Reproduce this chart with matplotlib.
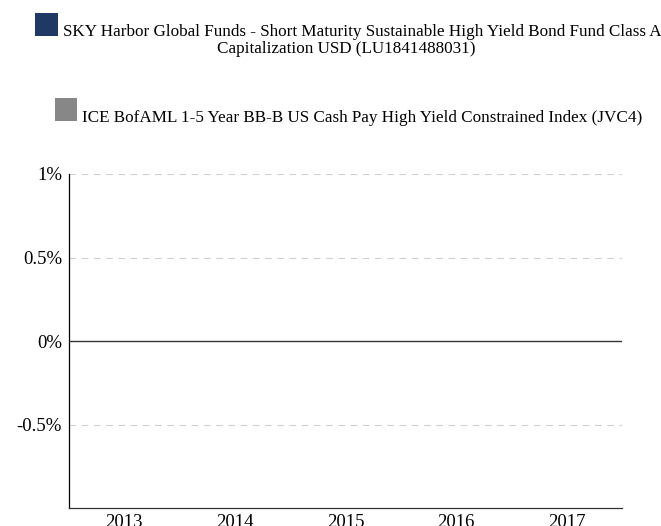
import matplotlib
matplotlib.use("Agg")
import matplotlib.pyplot as plt
from matplotlib.patches import Rectangle
from matplotlib.ticker import FuncFormatter
import numpy as np

# Data
years = ["2013", "2014", "2015", "2016", "2017"]
fund_returns = [np.nan, np.nan, np.nan, np.nan, np.nan]
index_returns = [np.nan, np.nan, np.nan, np.nan, np.nan]
yticks = [-0.5, 0, 0.5, 1]
fund_name_l1 = "SKY Harbor Global Funds - Short Maturity Sustainable High Yield Bond Fund Class A"
fund_name_l2 = "Capitalization USD (LU1841488031)"
index_name = "ICE BofAML 1-5 Year BB-B US Cash Pay High Yield Constrained Index (JVC4)"

plt.rcParams['font.family'] = ['Liberation Serif', 'DejaVu Serif']

W, H = 661, 526
fig = plt.figure(figsize=(W / 100, H / 100), dpi=100)

def fx(px):
    return px / W

def fy(py):
    return 1 - py / H

ax = fig.add_axes([fx(69), fy(508), fx(622) - fx(69), fy(174) - fy(508)])

x = np.arange(len(years))
w = 0.35
ax.bar(x - w / 2, fund_returns, w, color="#1f3864")
ax.bar(x + w / 2, index_returns, w, color="#878787")

ax.set_xlim(-0.5, len(years) - 0.5)
ax.set_ylim(-1, 1)
ax.set_xticks(x)
ax.set_xticklabels(years)
ax.set_yticks(yticks)
ax.yaxis.set_major_formatter(FuncFormatter(lambda v, p: f"{v:g}%"))
ax.tick_params(axis='y', length=0, pad=5, labelsize=13.5)
ax.tick_params(axis='x', length=0, pad=4, labelsize=13.5)

for v in yticks:
    if v != 0:
        ax.axhline(v, color="#d0d0d0", lw=0.8, linestyle=(0, (6, 5)), zorder=0)
ax.axhline(0, color="#333333", lw=1.0, zorder=3)

for s in ["top", "right"]:
    ax.spines[s].set_visible(False)
ax.spines["left"].set_color("#000000")
ax.spines["bottom"].set_color("#333333")
ax.spines["left"].set_linewidth(0.9)
ax.spines["bottom"].set_linewidth(0.9)

# Legend (custom layout)
fig.patches.append(Rectangle((fx(35), fy(36)), fx(23), fy(13) - fy(36), transform=fig.transFigure,
                             facecolor="#1f3864", edgecolor="none"))
fig.text(fx(63), fy(36), fund_name_l1, ha="left", va="baseline", fontsize=12.3)
fig.text(fx(346), fy(53), fund_name_l2, ha="center", va="baseline", fontsize=12.3)
fig.patches.append(Rectangle((fx(55), fy(121)), fx(22), fy(98) - fy(121), transform=fig.transFigure,
                             facecolor="#878787", edgecolor="none"))
fig.text(fx(82), fy(122), index_name, ha="left", va="baseline", fontsize=12.3)

fig.savefig("out.png", dpi=100)
